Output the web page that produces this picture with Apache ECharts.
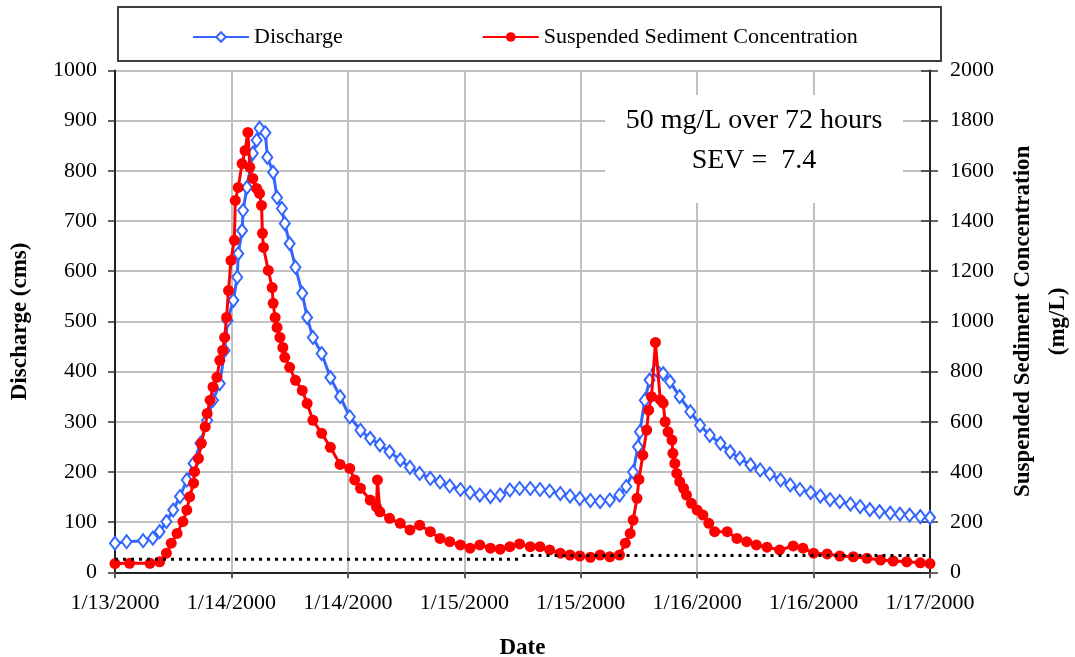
<!DOCTYPE html>
<html>
<head>
<meta charset="utf-8">
<script src="https://cdn.jsdelivr.net/npm/echarts@6/dist/echarts.min.js"></script>
<style>
html,body{margin:0;padding:0;background:#fff;overflow:hidden;}
#chart{width:1075px;height:657px;}
</style>
</head>
<body>
<div id="chart"></div>
<script>
// x positions are hours after 1/13/2000 12:00
var dateLabels = ['1/13/2000','1/14/2000','1/14/2000','1/15/2000','1/15/2000','1/16/2000','1/16/2000','1/17/2000'];

var dischargeHours = [0,1.2,2.9,3.9,4.6,5.3,6.0,6.7,7.4,8.1,8.8,9.5,10.1,10.8,11.3,11.6,12.2,12.6,12.7,13.1,13.2,13.6,14.2,14.6,14.9,15.5,15.7,16.3,16.7,17.2,17.5,18.0,18.6,19.3,19.8,20.4,21.3,22.2,23.2,24.2,25.3,26.3,27.3,28.3,29.4,30.4,31.4,32.5,33.5,34.5,35.6,36.6,37.6,38.7,39.7,40.7,41.7,42.8,43.8,44.8,45.9,46.9,47.9,49.0,50.0,51.0,52.0,52.7,53.4,53.9,54.1,54.6,55.1,55.8,56.5,57.2,58.2,59.3,60.3,61.3,62.4,63.4,64.4,65.5,66.5,67.5,68.6,69.6,70.6,71.7,72.7,73.7,74.7,75.8,76.8,77.8,78.8,79.9,80.9,81.9,83.0,84];
var dischargeValues = [58,61,63,68,81,101,124,151,184,217,257,303,343,376,442,502,542,588,635,681,721,767,835,861,885,876,827,797,747,725,695,655,608,556,508,468,436,388,350,310,283,267,254,240,224,209,197,187,180,172,165,159,154,151,154,164,167,167,165,162,157,152,147,143,141,144,154,171,200,250,280,343,383,403,396,380,350,320,293,273,257,240,227,214,204,196,184,174,165,159,152,145,141,136,131,125,121,118,116,114,111,109];

var sscHours = [0,1.5,3.6,4.6,5.3,5.8,6.4,7.0,7.4,7.7,8.1,8.2,8.6,8.9,9.3,9.5,9.8,10.1,10.5,10.8,11.1,11.3,11.5,11.7,11.95,12.3,12.4,12.7,13.1,13.4,13.7,13.9,14.2,14.6,14.9,15.1,15.2,15.3,15.8,16.2,16.3,16.5,16.7,17.0,17.3,17.5,18.0,18.6,19.3,19.8,20.4,21.3,22.2,23.2,24.2,24.7,25.3,26.3,26.95,27.05,27.3,28.3,29.4,30.4,31.4,32.5,33.5,34.5,35.6,36.6,37.6,38.7,39.7,40.7,41.7,42.8,43.8,44.8,45.9,46.9,47.9,49.0,50.0,51.0,52.0,52.6,53.1,53.4,53.8,54.0,54.4,54.8,55.0,55.3,55.7,56.2,56.5,56.7,57.0,57.4,57.5,57.7,57.9,58.2,58.6,58.9,59.4,60.0,60.6,61.2,61.8,63.1,64.1,65.1,66.1,67.2,68.5,69.9,70.9,72.0,73.4,74.7,76.1,77.5,78.9,80.2,81.6,83.0,84];
var sscValues = [35,36,36,42,76,116,155,202,248,301,355,401,454,514,580,633,686,739,777,845,884,936,1016,1123,1243,1323,1482,1534,1629,1681,1753,1614,1570,1530,1510,1462,1351,1295,1203,1135,1072,1016,976,936,896,857,817,765,725,673,606,554,498,430,414,368,335,288,261,368,241,215,195,169,188,162,135,122,109,96,109,96,92,102,113,102,102,89,76,69,65,60,69,62,69,116,155,208,295,370,467,567,646,700,916,688,674,600,560,527,474,434,394,361,335,308,275,248,228,195,162,162,135,122,109,100,89,105,96,76,73,65,62,56,49,45,42,38,35];

var thresholdHoursA = [0, 42];
var thresholdValuesA = [52, 52];
var thresholdHoursB = [42, 84];
var thresholdValuesB = [67, 67];

function zip(xs, ys){ return xs.map(function(x,i){ return [x, ys[i]]; }); }
function plain(v){ return String(v); }

var FONT = '"Liberation Serif","Times New Roman","DejaVu Serif",serif';
var chart = echarts.init(document.getElementById('chart'));
chart.setOption({
  animation: false,
  backgroundColor: '#fff',
  textStyle: {fontFamily: FONT, color: '#000'},
  grid: {left: 115, right: 145, top: 70.5, bottom: 84.7, containLabel: false, outerBoundsMode: 'none'},
  legend: {
    left: 187, top: 21,
    itemWidth: 56, itemHeight: 12, itemGap: 139,
    data: ['Discharge', 'Suspended Sediment Concentration'],
    textStyle: {fontFamily: FONT, fontSize: 22, color: '#000'}
  },
  graphic: [
    {type: 'rect', shape: {x: 118, y: 7, width: 823, height: 54},
     style: {fill: 'none', stroke: '#404040', lineWidth: 2}, z: 10, silent: true},
    {type: 'rect', shape: {x: 605, y: 95, width: 298, height: 108},
     style: {fill: '#fff'}, z: 5, silent: true},
    {type: 'text', x: 754, y: 101, z: 6, silent: true,
     style: {text: '50 mg/L over 72 hours\nSEV =  7.4', fontFamily: FONT, fontSize: 28,
             lineHeight: 40, align: 'center', fill: '#000'}}
  ],
  xAxis: {
    type: 'value', min: 0, max: 84, interval: 12,
    name: 'Date', nameLocation: 'middle', nameGap: 64,
    nameTextStyle: {fontFamily: FONT, fontSize: 23, fontWeight: 'bold', color: '#000'},
    axisLine: {lineStyle: {color: '#222', width: 2}},
    axisTick: {show: true, length: 6, lineStyle: {color: '#555', width: 2}},
    axisLabel: {fontFamily: FONT, fontSize: 22, color: '#000', margin: 20,
      formatter: function(v){ return dateLabels[Math.round(v/12)]; }},
    splitLine: {show: true, lineStyle: {color: '#c0c0c0', width: 2}}
  },
  yAxis: [
    {type: 'value', min: 0, max: 1000, interval: 100, position: 'left',
     name: 'Discharge (cms)', nameLocation: 'middle', nameGap: 83, nameRotate: 90,
     nameTextStyle: {fontFamily: FONT, fontSize: 23, fontWeight: 'bold', color: '#000'},
     axisLine: {show: true, lineStyle: {color: '#222', width: 2}},
     axisTick: {show: true, length: 7, lineStyle: {color: '#333', width: 1.5}},
     axisLabel: {fontFamily: FONT, fontSize: 22, color: '#000', margin: 18, formatter: plain},
     splitLine: {show: true, lineStyle: {color: '#c0c0c0', width: 2}}},
    {type: 'value', min: 0, max: 2000, interval: 200, position: 'right',
     name: 'Suspended Sediment Concentration\n(mg/L)', nameLocation: 'middle', nameGap: 76, nameRotate: 90,
     nameTextStyle: {fontFamily: FONT, fontSize: 23, fontWeight: 'bold', color: '#000', lineHeight: 35, align: 'center'},
     axisLine: {show: true, lineStyle: {color: '#222', width: 2}},
     axisTick: {show: true, length: 8, lineStyle: {color: '#333', width: 1.5}},
     axisLabel: {fontFamily: FONT, fontSize: 22, color: '#000', margin: 20, formatter: plain},
     splitLine: {show: false}},
    {type: 'value', min: 0, max: 2000, interval: 200, position: 'right',
     axisLine: {show: false},
     axisTick: {show: true, inside: true, length: 9, lineStyle: {color: '#333', width: 1.5}},
     axisLabel: {show: false}, splitLine: {show: false}}
  ],
  series: [
    {name: 'Discharge', type: 'line', yAxisIndex: 0, data: zip(dischargeHours, dischargeValues),
     symbol: 'emptyDiamond', symbolSize: [10, 13], showAllSymbol: true,
     lineStyle: {color: '#3366ff', width: 3}, itemStyle: {color: '#3366ff', borderWidth: 1.5}, z: 3},
    {name: 'Suspended Sediment Concentration', type: 'line', yAxisIndex: 1, data: zip(sscHours, sscValues),
     symbol: 'circle', symbolSize: 11, showAllSymbol: true,
     lineStyle: {color: '#ff0000', width: 3}, itemStyle: {color: '#ff0000'}, z: 4},
    {name: 'thresholdA', type: 'line', yAxisIndex: 1, data: zip(thresholdHoursA, thresholdValuesA),
     symbol: 'none', silent: true, lineStyle: {color: '#000', width: 3, type: [3, 5]}, z: 5},
    {name: 'thresholdB', type: 'line', yAxisIndex: 1, data: zip(thresholdHoursB, thresholdValuesB),
     symbol: 'none', silent: true, lineStyle: {color: '#000', width: 3, type: [3, 5]}, z: 5}
  ]
});
</script>
</body>
</html>
